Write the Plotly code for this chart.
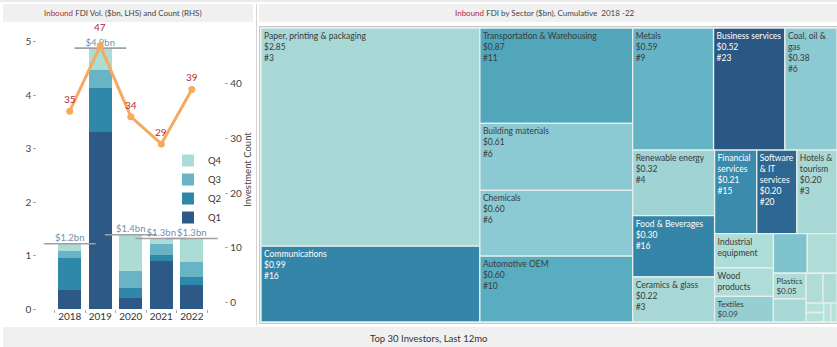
import plotly.graph_objects as go

W, H = 837, 347

# ---------------- data ----------------
years = ["2018", "2019", "2020", "2021", "2022"]
q1 = [0.36, 3.31, 0.21, 0.90, 0.45]
q2 = [0.60, 0.83, 0.18, 0.11, 0.15]
q3 = [0.13, 0.34, 0.32, 0.21, 0.28]
q4 = [0.13, 0.40, 0.68, 0.10, 0.44]
total_labels = ["$1.2bn", "$4.9bn", "$1.4bn", "$1.3bn", "$1.3bn"]
investment_count = [35, 47, 34, 29, 39]

sectors = ["Paper, printing & packaging", "Communications", "Transportation & Warehousing",
           "Building materials", "Chemicals", "Automotive OEM", "Metals", "Business services",
           "Coal, oil & gas", "Renewable energy", "Food & Beverages", "Ceramics & glass",
           "Financial services", "Software & IT services", "Hotels & tourism",
           "Industrial equipment", "Wood products", "Textiles", "Consumer products",
           "Automotive components", "Plastics", "Electronic components", "Pharmaceuticals",
           "Healthcare", "Rubber", "Beverages", "Semiconductors", "Medical devices"]
sector_wrapped = ["Paper, printing & packaging", "Communications", "Transportation & Warehousing",
                  "Building materials", "Chemicals", "Automotive OEM", "Metals", "Business services",
                  "Coal, oil &<br>gas", "Renewable energy", "Food & Beverages", "Ceramics & glass",
                  "Financial<br>services", "Software<br>& IT<br>services", "Hotels &<br>tourism",
                  "Industrial<br>equipment", "Wood<br>products", "Textiles", "", "", "Plastics",
                  "", "", "", "", "", "", ""]
sector_values = [2.85, 0.99, 0.87, 0.61, 0.60, 0.60, 0.59, 0.52, 0.38, 0.32, 0.30, 0.22,
                 0.21, 0.20, 0.20, 0.12, 0.10, 0.09, 0.08, 0.07, 0.05, 0.045, 0.03, 0.025,
                 0.01, 0.01, 0.008, 0.007]
sector_counts = [3, 16, 11, 6, 6, 10, 9, 23, 6, 4, 16, 3, 15, 20, 3, 2, 2, 5, 7, 2, 2, 3, 2, 2,
                 1, 1, 1, 1]
# how many label lines are shown (name / value / count)
label_detail = [3] * 15 + [1, 1, 2, 0, 0, 2, 0, 0, 0, 0, 0, 0, 0]

# ---------------- helpers ----------------
def px(x):
    return x / W

def py(y):
    return 1 - y / H

FONT = "Lato"
C_Q1, C_Q2, C_Q3, C_Q4 = "#2c5985", "#2f87a9", "#68b4c5", "#abdcd6"
RED = "#b3283a"
Y_RANGE = [0, 5.22]
Y2_RANGE = [-1.28, 49.9]
PLOT_TOP, PLOT_BOTTOM = 30, 309

fig = go.Figure()

# stacked bars
for name, vals, col in [("Q1", q1, C_Q1), ("Q2", q2, C_Q2), ("Q3", q3, C_Q3), ("Q4", q4, C_Q4)]:
    fig.add_trace(go.Bar(x=years, y=vals, name=name, marker=dict(color=col, line=dict(width=0)),
                         xaxis="x", yaxis="y", hoverinfo="skip"))

# totals line + label
stack_tops = [a + b + c + d for a, b, c, d in zip(q1, q2, q3, q4)]
fig.add_trace(go.Scatter(x=years, y=stack_tops, mode="markers",
                         marker=dict(symbol="line-ew", size=37, color="#a0a0a0",
                                     line=dict(width=1.6, color="#a0a0a0")),
                         showlegend=False, hoverinfo="skip", xaxis="x", yaxis="y"))
fig.add_trace(go.Scatter(x=years, y=stack_tops, mode="text", text=total_labels,
                         textposition="top center",
                         textfont=dict(family=FONT, size=9.5, color="#6f8fb2"),
                         showlegend=False, hoverinfo="skip", xaxis="x", yaxis="y"))

# count line
fig.add_trace(go.Scatter(x=years, y=investment_count, mode="lines+markers",
                         line=dict(color="#f6a95f", width=3),
                         marker=dict(color="#f6a95f", size=7),
                         showlegend=False, hoverinfo="skip", xaxis="x", yaxis="y2"))

# count labels: lift a label a little more when it sits right on a total label
plot_h = PLOT_BOTTOM - PLOT_TOP
ann = []
for i, (cnt, top) in enumerate(zip(investment_count, stack_tops)):
    cnt_px = PLOT_BOTTOM - (cnt - Y2_RANGE[0]) / (Y2_RANGE[1] - Y2_RANGE[0]) * plot_h
    tot_px = PLOT_BOTTOM - (top - Y_RANGE[0]) / (Y_RANGE[1] - Y_RANGE[0]) * plot_h
    shift = 19 if abs(cnt_px - tot_px) < 10 else 12
    ann.append(dict(x=i, y=cnt, xref="x", yref="y2", text=str(cnt), showarrow=False,
                    yshift=shift, font=dict(family=FONT, size=10, color=RED)))

# treemap
texts = []
for nm, v, c, d in zip(sector_wrapped, sector_values, sector_counts, label_detail):
    parts = []
    if d >= 1:
        parts.append(nm)
    if d >= 2:
        parts.append(f"${v:.2f}")
    if d >= 3:
        parts.append(f"#{c}")
    texts.append("<br>".join(parts))

text_colors = ["#ffffff" if c >= 13 else "#3a3a3a" for c in sector_counts]

fig.add_trace(go.Treemap(
    labels=sectors, parents=[""] * len(sectors), values=sector_values,
    text=texts, textinfo="text", sort=False,
    textposition="top left",
    textfont=dict(family=FONT, size=8.5, color=text_colors),
    root=dict(color="white"),
    marker=dict(colors=sector_counts, cmin=1, cmax=23, showscale=False,
                colorscale=[[0.0, "#b4e2da"], [0.09, "#a8d8d5"], [0.227, "#8ccad3"],
                            [0.41, "#58adc0"], [0.68, "#3485a8"], [0.864, "#2e6792"],
                            [1.0, "#2b5784"]],
                pad=dict(t=0, l=0, r=0, b=0),
                line=dict(color="#e6eeee", width=1.3)),
    tiling=dict(packing="squarify", squarifyratio=1.618, pad=0),
    pathbar=dict(visible=False),
    domain=dict(x=[px(261), 1.0], y=[py(322), py(28)]),
    hoverinfo="skip"))

# ---------------- layout ----------------
tick_font = dict(family=FONT, size=10, color="#444")
fig.update_layout(
    width=W, height=H, autosize=False,
    margin=dict(l=0, r=0, t=0, b=0),
    paper_bgcolor="white", plot_bgcolor="white",
    template="none",
    barmode="stack", bargap=0.25,
    font=dict(family=FONT, size=10, color="#444"),
    xaxis=dict(domain=[px(37.3), px(224.3)], anchor="y", type="category",
               categoryorder="array", categoryarray=years,
               showgrid=False, zeroline=False, showline=False, tickangle=0,
               ticks="outside", tickson="boundaries", ticklen=3, tickcolor="#aaaaaa",
               tickfont=dict(family=FONT, size=10, color="#333"), automargin=False),
    yaxis=dict(domain=[py(PLOT_BOTTOM), py(PLOT_TOP)], anchor="x", range=Y_RANGE,
               tickvals=[0, 1, 2, 3, 4, 5], showgrid=False, zeroline=False, showline=False,
               ticks="outside", ticklen=3, tickcolor="#aaaaaa", tickfont=tick_font,
               automargin=False),
    yaxis2=dict(domain=[py(PLOT_BOTTOM), py(PLOT_TOP)], anchor="x", overlaying="y", side="right",
                range=Y2_RANGE, tickvals=[0, 10, 20, 30, 40, 50],
                showgrid=False, zeroline=False, showline=False,
                ticks="outside", ticklen=3, tickcolor="#aaaaaa", tickfont=tick_font,
                title=dict(text="Investment Count", font=dict(family=FONT, size=9.5, color="#444"),
                           standoff=0),
                automargin=False),
    legend=dict(x=px(168), y=py(146), xanchor="left", yanchor="top",
                traceorder="reversed", bgcolor="rgba(0,0,0,0)", tracegroupgap=0,
                font=dict(family=FONT, size=9.5, color="#333"), itemwidth=30),
)

shapes = [
    dict(type="line", xref="paper", yref="paper", x0=0, x1=1, y0=py(1), y1=py(1),
         line=dict(color="#d6d6d6", width=1)),
    dict(type="rect", xref="paper", yref="paper", x0=px(3), x1=px(253), y0=py(22), y1=py(4),
         fillcolor="#f0f0f0", line=dict(width=0), layer="below"),
    dict(type="rect", xref="paper", yref="paper", x0=px(259), x1=1, y0=py(22), y1=py(4),
         fillcolor="#f0f0f0", line=dict(width=0), layer="below"),
    dict(type="line", xref="paper", yref="paper", x0=px(256.5), x1=px(256.5), y0=py(325), y1=py(4),
         line=dict(color="#d4d4d4", width=1)),
    dict(type="rect", xref="paper", yref="paper", x0=px(259.5), x1=px(838), y0=py(323.5), y1=py(26.5),
         line=dict(color="#c8c8c8", width=1)),
    dict(type="rect", xref="paper", yref="paper", x0=px(3), x1=1, y0=0, y1=py(327),
         fillcolor="#f0f0f0", line=dict(width=0), layer="below"),
]
fig.update_layout(shapes=shapes)

ann += [
    dict(text=f"<span style='color:{RED}'>Inbound</span> FDI Vol. ($bn, LHS) and Count (RHS)",
         x=px(123), y=py(13), xref="paper", yref="paper", showarrow=False,
         xanchor="center", yanchor="middle", font=dict(family=FONT, size=8, color="#444")),
    dict(text=f"<span style='color:{RED}'>Inbound</span> FDI by Sector ($bn), Cumulative \u00a02018 -22",
         x=px(545), y=py(13), xref="paper", yref="paper", showarrow=False,
         xanchor="center", yanchor="middle", font=dict(family=FONT, size=8, color="#444")),
    dict(text="Top 30 Investors, Last 12mo", x=px(428), y=py(338), xref="paper", yref="paper",
         showarrow=False, xanchor="center", yanchor="middle",
         font=dict(family=FONT, size=9.5, color="#333")),
]
fig.update_layout(annotations=ann)

fig.write_html("out.html", config={"displayModeBar": False},
               post_script="document.body.style.margin='0px';document.body.style.overflow='hidden';")
